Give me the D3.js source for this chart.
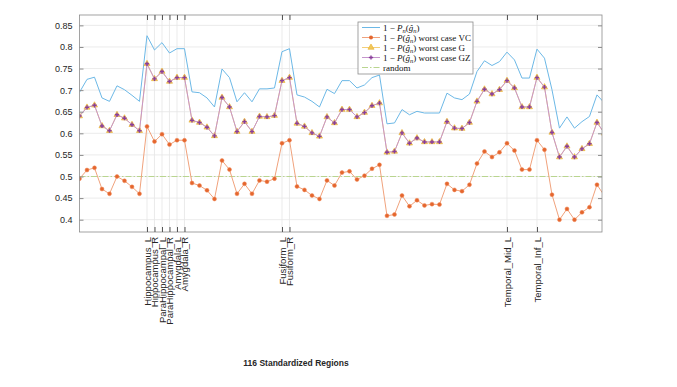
<!DOCTYPE html>
<html><head><meta charset="utf-8">
<script src="https://cdn.jsdelivr.net/npm/d3@7"></script>
<style>body{margin:0;background:#fff}</style>
</head><body>
<svg id="c" width="677" height="387"></svg>
<script>
// AAL region numbers shown in the zoomed view
const regions = [28,29,30,31,32,33,34,35,36,37,38,39,40,41,42,43,44,45,46,47,48,49,50,51,52,53,54,55,56,57,58,59,60,61,62,63,64,65,66,67,68,69,70,71,72,73,74,75,76,77,78,79,80,81,82,83,84,85,86,87,88,89,90,91,92,93,94,95,96,97,98];
const pnSeries = [0.695,0.725,0.730,0.682,0.674,0.710,0.701,0.688,0.674,0.826,0.793,0.810,0.786,0.796,0.796,0.696,0.694,0.682,0.661,0.749,0.729,0.673,0.694,0.673,0.703,0.703,0.705,0.789,0.796,0.689,0.684,0.674,0.661,0.702,0.692,0.722,0.722,0.705,0.712,0.729,0.735,0.622,0.624,0.655,0.643,0.651,0.647,0.647,0.647,0.693,0.682,0.678,0.691,0.743,0.768,0.757,0.766,0.788,0.770,0.728,0.728,0.795,0.774,0.701,0.612,0.638,0.612,0.627,0.639,0.689,0.670];
const vcSeries = [0.495,0.515,0.520,0.471,0.460,0.500,0.490,0.476,0.460,0.616,0.581,0.598,0.574,0.584,0.584,0.485,0.479,0.468,0.448,0.537,0.516,0.460,0.483,0.460,0.491,0.488,0.495,0.577,0.584,0.477,0.469,0.456,0.448,0.491,0.479,0.509,0.512,0.493,0.502,0.518,0.527,0.409,0.412,0.456,0.431,0.445,0.433,0.436,0.435,0.483,0.469,0.466,0.481,0.530,0.558,0.545,0.556,0.577,0.560,0.516,0.516,0.584,0.562,0.458,0.400,0.425,0.400,0.417,0.429,0.481,0.455];
const gSeries = [0.640,0.660,0.665,0.617,0.606,0.643,0.635,0.620,0.606,0.761,0.726,0.743,0.720,0.729,0.729,0.630,0.625,0.614,0.594,0.683,0.661,0.604,0.627,0.604,0.639,0.638,0.641,0.722,0.729,0.623,0.616,0.601,0.593,0.638,0.624,0.655,0.655,0.638,0.648,0.664,0.670,0.556,0.558,0.601,0.577,0.589,0.580,0.580,0.580,0.627,0.612,0.611,0.625,0.674,0.702,0.691,0.701,0.722,0.705,0.661,0.661,0.729,0.707,0.602,0.545,0.570,0.545,0.564,0.576,0.625,0.600];
const gzSeries = [0.640,0.660,0.665,0.617,0.606,0.643,0.635,0.620,0.606,0.761,0.726,0.743,0.720,0.729,0.729,0.630,0.625,0.614,0.594,0.683,0.661,0.604,0.627,0.604,0.639,0.638,0.641,0.722,0.729,0.623,0.616,0.601,0.593,0.638,0.624,0.655,0.655,0.638,0.648,0.664,0.670,0.556,0.558,0.601,0.577,0.589,0.580,0.580,0.580,0.627,0.612,0.611,0.625,0.674,0.702,0.691,0.701,0.722,0.705,0.661,0.661,0.729,0.707,0.602,0.545,0.570,0.545,0.564,0.576,0.625,0.600];
const randomLevel = 0.5;
const yTicks = [0.4,0.45,0.5,0.55,0.6,0.65,0.7,0.75,0.8,0.85];
const labelRegions = [37,38,39,40,41,42,55,56,85,89];
const labelNames = ["Hippocampus_L","Hippocampus_R","ParaHippocampal_L","ParaHippocampal_R","Amygdala_L","Amygdala_R","Fusiform_L","Fusiform_R","Temporal_Mid_L","Temporal_Inf_L"];
const xTitle = "116 Standardized Regions";

const L = 79.5, R = 602, T = 15, B = 232;
const svg = d3.select("#c");
const x = d3.scaleLinear().domain([28, 97.67]).range([L, R]);
const y = d3.scaleLinear().domain([0.3715, 0.874]).range([B, T]);

svg.append("defs").append("clipPath").attr("id","clip")
  .append("rect").attr("x",L).attr("y",T).attr("width",R-L).attr("height",B-T);

// grid
const grid = svg.append("g");
grid.selectAll("line.h").data(yTicks).join("line")
  .attr("x1",L).attr("x2",R).attr("y1",d=>y(d)).attr("y2",d=>y(d))
  .attr("stroke","#e6e6e6").attr("stroke-width",0.8);
grid.selectAll("line.v").data(labelRegions).join("line")
  .attr("x1",d=>x(d)).attr("x2",d=>x(d)).attr("y1",T).attr("y2",B)
  .attr("stroke","#e6e6e6").attr("stroke-width",0.8);

const plot = svg.append("g").attr("clip-path","url(#clip)");
const pts = s => regions.map((r,i)=>[r,s[i]]);
const line = d3.line().x(d=>x(d[0])).y(d=>y(d[1]));

// random
plot.append("path").datum([[regions[0],randomLevel],[regions[regions.length-1],randomLevel]])
  .attr("d",line).attr("fill","none").attr("stroke","#b9d58f").attr("stroke-width",1)
  .attr("stroke-dasharray","6,2,1.5,2");
// Pn
plot.append("path").datum(pts(pnSeries)).attr("d",line).attr("fill","none")
  .attr("stroke","#6cb8e6").attr("stroke-width",1);
// VC
plot.append("path").datum(pts(vcSeries)).attr("d",line).attr("fill","none")
  .attr("stroke","#f0a27c").attr("stroke-width",1);
plot.selectAll("circle.vc").data(pts(vcSeries)).join("circle")
  .attr("cx",d=>x(d[0])).attr("cy",d=>y(d[1])).attr("r",2)
  .attr("fill","#e4662e").attr("stroke","#f08a5a").attr("stroke-width",0.5);
// G
plot.append("path").datum(pts(gSeries)).attr("d",line).attr("fill","none")
  .attr("stroke","#f3cf7a").attr("stroke-width",1);
const tri = d3.symbol().type(d3.symbolTriangle).size(16);
plot.selectAll("path.g").data(pts(gSeries)).join("path")
  .attr("transform",d=>`translate(${x(d[0])},${y(d[1])})`).attr("d",tri)
  .attr("fill","#f2c85a").attr("stroke","#e8ad2a").attr("stroke-width",0.6);
// GZ
plot.append("path").datum(pts(gzSeries)).attr("d",line).attr("fill","none")
  .attr("stroke","#c595cd").attr("stroke-width",1);
const plus = d3.symbol().type(d3.symbolCross).size(10);
plot.selectAll("path.gz").data(pts(gzSeries)).join("path")
  .attr("transform",d=>`translate(${x(d[0])},${y(d[1])})`).attr("d",plus)
  .attr("fill","#8a3f9a");

// axes box
const axCol = "#8c8c8c";
svg.append("rect").attr("x",L).attr("y",T).attr("width",R-L).attr("height",B-T)
  .attr("fill","none").attr("stroke",axCol).attr("stroke-width",0.8);
const ax = svg.append("g").attr("font-family","'Liberation Sans',Arial,sans-serif");
const yl = ax.append("g").attr("transform",`translate(${L},0)`)
  .call(d3.axisLeft(y).tickValues(yTicks).tickSize(-4).tickPadding(7).tickFormat(d3.format("")));
yl.select(".domain").remove();
yl.selectAll("line").attr("stroke",axCol);
yl.selectAll("text").attr("font-size",9).attr("fill","#262626");
const yr = ax.append("g").attr("transform",`translate(${R},0)`)
  .call(d3.axisRight(y).tickValues(yTicks).tickSize(-4).tickFormat(""));
yr.select(".domain").remove(); yr.selectAll("line").attr("stroke",axCol);
const xt = ax.append("g").attr("transform",`translate(0,${T})`)
  .call(d3.axisTop(x).tickValues(labelRegions).tickSize(-5).tickFormat(""));
xt.select(".domain").remove(); xt.selectAll("line").attr("stroke","#555");
const xb = ax.append("g").attr("transform",`translate(0,${B})`)
  .call(d3.axisBottom(x).tickValues(labelRegions).tickSize(-5).tickFormat((d,i)=>labelNames[i]));
xb.select(".domain").remove(); xb.selectAll("line").attr("stroke","#555");
xb.selectAll("text").attr("font-size",9.5).attr("fill","#262626")
  .attr("text-anchor","end").attr("transform","rotate(-90)")
  .attr("x",-5).attr("y",0).attr("dy","0.35em");

svg.append("text").attr("x",296).attr("y",366).attr("text-anchor","middle")
  .attr("font-family","'Liberation Sans',Arial,sans-serif").attr("font-weight","bold")
  .attr("font-size",8.5).attr("fill","#262626").text(xTitle);

// legend
const lg = svg.append("g").attr("font-family","'Liberation Serif','DejaVu Serif',serif").attr("font-size",9).attr("fill","#111");
lg.append("rect").attr("x",358).attr("y",22).attr("width",115).attr("height",52)
  .attr("fill","#fff").attr("stroke","#8c8c8c").attr("stroke-width",0.8);
const rows = [27.5, 37.5, 47.5, 57.5, 67.5];
const items = [
  {c:"#6cb8e6", t:"pn"},
  {c:"#f0a27c", t:"VC", m:"circle"},
  {c:"#f3cf7a", t:"G", m:"tri"},
  {c:"#c595cd", t:"GZ", m:"plus"},
  {c:"#b9d58f", t:"random", dash:"6,2,1.5,2"}
];
items.forEach((it,k)=>{
  const yy = rows[k];
  lg.append("line").attr("x1",362).attr("x2",380).attr("y1",yy).attr("y2",yy)
    .attr("stroke",it.c).attr("stroke-width",1).attr("stroke-dasharray",it.dash||null);
  if(it.m==="circle") lg.append("circle").attr("cx",371).attr("cy",yy).attr("r",2).attr("fill","#e4662e");
  if(it.m==="tri") lg.append("path").attr("transform",`translate(371,${yy})`).attr("d",d3.symbol().type(d3.symbolTriangle).size(16)()).attr("fill","#f2c85a").attr("stroke","#e8ad2a").attr("stroke-width",0.6);
  if(it.m==="plus") lg.append("path").attr("transform",`translate(371,${yy})`).attr("d",d3.symbol().type(d3.symbolCross).size(10)()).attr("fill","#8a3f9a");
  const t = lg.append("text").attr("x",383).attr("y",yy+3);
  if(it.t==="random"){ t.text("random"); return; }
  t.append("tspan").text("1 \u2212 ");
  t.append("tspan").attr("font-style","italic").text("P");
  if(it.t==="pn"){
    t.append("tspan").attr("font-style","italic").attr("font-size",6.5).attr("dy",2).text("n");
    t.append("tspan").attr("dy",-2).text("(");
  } else t.append("tspan").text("(");
  t.append("tspan").attr("font-style","italic").text("\u011D");
  t.append("tspan").attr("font-style","italic").attr("font-size",6.5).attr("dy",2).text("n");
  t.append("tspan").attr("dy",-2).text(")");
  if(it.t!=="pn") t.append("tspan").text(" worst case " + it.t);
});
</script>
</body></html>
